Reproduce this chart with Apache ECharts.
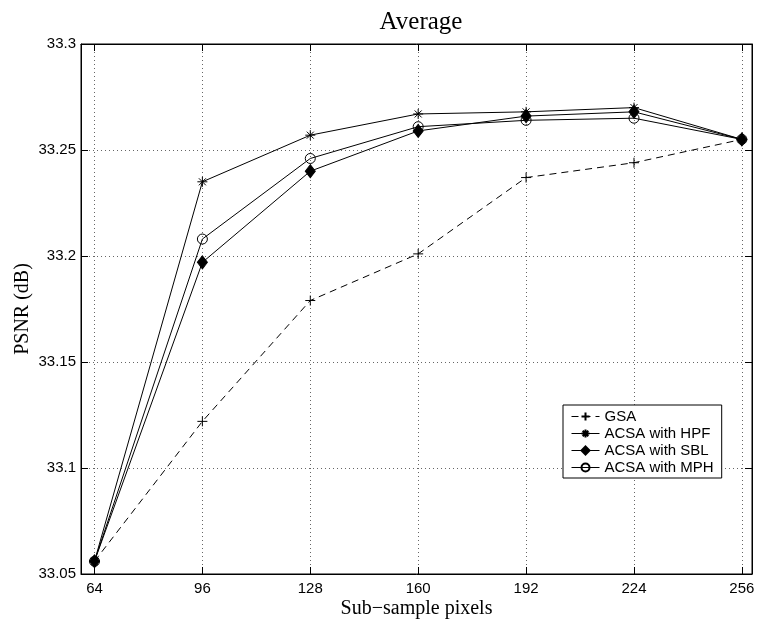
<!DOCTYPE html>
<html>
<head>
<meta charset="utf-8">
<script src="https://cdn.jsdelivr.net/npm/echarts@6/dist/echarts.min.js"></script>
<style>html,body{margin:0;padding:0;background:#fff;}#c{width:757px;height:620px;}</style>
</head>
<body>
<div id="c"></div>
<script>
var xValues = [64, 96, 128, 160, 192, 224, 256];
var xTicks = [64, 96, 128, 160, 192, 224, 256];
var gsa = [33.056, 33.122, 33.179, 33.201, 33.237, 33.244, 33.255];
var hpf = [33.056, 33.235, 33.257, 33.267, 33.268, 33.270, 33.255];
var sbl = [33.056, 33.197, 33.240, 33.259, 33.266, 33.268, 33.255];
var mph = [33.056, 33.208, 33.246, 33.261, 33.264, 33.265, 33.255];
var seriesNames = ['GSA', 'ACSA with HPF', 'ACSA with SBL', 'ACSA with MPH'];
var titleText = 'Average';
var xName = 'Sub\u2212sample pixels';
var yName = 'PSNR (dB)';

function pairs(ys) { return xValues.map(function (x, i) { return [x, ys[i]]; }); }

var chart = echarts.init(document.getElementById('c'), null, {renderer: 'canvas'});
var sansFont = 'Liberation Sans, Arial, sans-serif';
var serifFont = 'Liberation Serif, Times New Roman, serif';
var plus = 'path://M0,5L10,5M5,0L5,10';
var star = 'path://M5,0L5,10M0,5L10,5M1.5,1.5L8.5,8.5M1.5,8.5L8.5,1.5';

function lineSeries(name, data, symbol, size, fill, dashed) {
  return {
    name: name, type: 'line', data: pairs(data),
    symbol: symbol, symbolSize: size, symbolKeepAspect: true,
    showSymbol: true,
    itemStyle: {color: fill, borderColor: '#000', borderWidth: 1},
    lineStyle: {color: '#000', width: 1, type: dashed ? [7, 5] : 'solid'},
    emphasis: {disabled: true},
    z: 3
  };
}

var option = {
  animation: false,
  backgroundColor: '#fff',
  title: {
    text: titleText, left: 416, textAlign: 'center', top: 5,
    textStyle: {fontFamily: serifFont, fontSize: 25, fontWeight: 'normal', color: '#000'}
  },
  grid: {left: 81, top: 44, right: 5, bottom: 46, show: true, borderColor: '#000', borderWidth: 1,
    backgroundColor: '#fff', containLabel: false, outerBoundsMode: 'none'},
  legend: {
    orient: 'vertical', left: 563, top: 405,
    backgroundColor: '#fff', borderColor: '#000', borderWidth: 1,
    padding: [4, 8, 3, 8], itemGap: 2, itemWidth: 28, itemHeight: 10,
    lineStyle: {width: 1},
    textStyle: {fontFamily: sansFont, fontSize: 15, color: '#000'},
    data: seriesNames
  },
  xAxis: [{
    type: 'value', min: 60, max: 259, position: 'bottom',
    name: xName, nameLocation: 'middle', nameGap: 25, nameMoveOverlap: false,
    nameTextStyle: {fontFamily: serifFont, fontSize: 20, color: '#000'},
    axisLine: {lineStyle: {color: '#000', width: 1}},
    axisTick: {inside: true, length: 7, customValues: xTicks, lineStyle: {color: '#000'}},
    axisLabel: {customValues: xTicks, margin: 7, fontFamily: sansFont, fontSize: 15, color: '#000'},
    splitLine: {show: true, lineStyle: {color: '#666', type: [1, 3], width: 1}}
  }, {
    type: 'value', min: 60, max: 259, position: 'top',
    axisLine: {show: true, lineStyle: {color: '#000'}},
    axisTick: {inside: true, length: 7, customValues: xTicks, lineStyle: {color: '#000'}},
    axisLabel: {show: false},
    splitLine: {show: false}
  }],
  yAxis: [{
    type: 'value', min: 33.05, max: 33.3, interval: 0.05, position: 'left',
    name: yName, nameLocation: 'middle', nameGap: 48, nameRotate: 90, nameMoveOverlap: false,
    nameTextStyle: {fontFamily: serifFont, fontSize: 20, color: '#000'},
    axisLine: {show: true, lineStyle: {color: '#000', width: 1}},
    axisTick: {show: true, inside: true, length: 7, lineStyle: {color: '#000'}},
    axisLabel: {margin: 5, fontFamily: sansFont, fontSize: 15, color: '#000',
      formatter: function (v) { return String(Math.round(v * 100) / 100); }},
    splitLine: {show: true, lineStyle: {color: '#666', type: [1, 3], width: 1}}
  }, {
    type: 'value', min: 33.05, max: 33.3, interval: 0.05, position: 'right',
    axisLine: {show: true, lineStyle: {color: '#000'}},
    axisTick: {show: true, inside: true, length: 7, lineStyle: {color: '#000'}},
    axisLabel: {show: false},
    splitLine: {show: false}
  }],
  series: [
    lineSeries(seriesNames[0], gsa, plus, 10, '#000', true),
    lineSeries(seriesNames[1], hpf, star, 10, '#000', false),
    lineSeries(seriesNames[2], sbl, 'diamond', [10, 13], '#000', false),
    lineSeries(seriesNames[3], mph, 'circle', 10, 'none', false)
  ]
};
chart.setOption(option);
</script>
</body>
</html>
